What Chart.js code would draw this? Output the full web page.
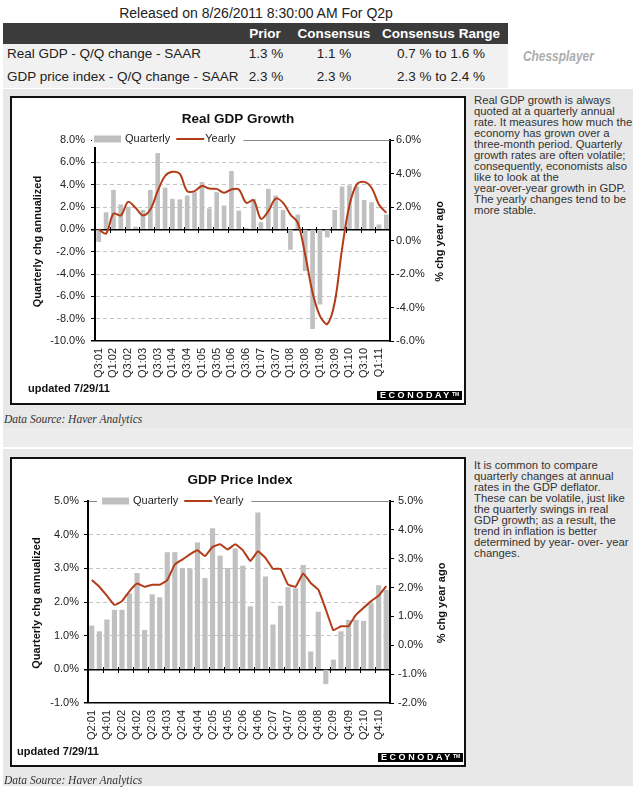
<!DOCTYPE html>
<html>
<head>
<meta charset="utf-8">
<script src="https://cdn.jsdelivr.net/npm/chart.js@4.4.0/dist/chart.umd.min.js"></script>
<style>
  body { margin: 0; width: 639px; height: 789px; position: relative; overflow: hidden; background: #fff;
         font-family: Arial, "Liberation Sans", sans-serif; }
  .abs { position: absolute; white-space: nowrap; }
  .panel { position: absolute; left: 3px; width: 630px; background: #e8e8e8; }
  .hcell { position: absolute; top: 23px; height: 21px; line-height: 21px; width: 120px; text-align: center;
           color: #fff; font-weight: bold; font-size: 13.5px; }
  .cell { position: absolute; width: 120px; text-align: center; font-size: 13.5px; color: #222; line-height: 20px; }
  .rowlbl { position: absolute; left: 7px; font-size: 13.5px; color: #222; line-height: 20px; white-space: nowrap; }
  .box { position: absolute; left: 10px; width: 452px; border: 2px solid #111; background: #fff; }
  .box canvas { display: block; }
  .note { position: absolute; left: 474px; font-size: 11.3px; line-height: 11px; color: #333; white-space: nowrap; }
  .source { position: absolute; left: 4px; font-family: "Liberation Serif", "Times New Roman", serif; font-style: italic;
            font-size: 11.5px; color: #333; white-space: nowrap; }
  .updated { position: absolute; font-weight: bold; font-size: 11px; color: #111; white-space: nowrap; }
  .logo { position: absolute; width: 85px; height: 9px; line-height: 9px; background: #000; color: #fff;
          font-weight: bold; font-size: 9px; letter-spacing: 2.6px; text-align: center; overflow: hidden; }
  .logo sup { font-size: 5px; letter-spacing: 0; vertical-align: top; line-height: 6px; }
</style>
</head>
<body>

<!-- header table -->
<div class="abs" style="left:0; top:5px; width:512px; text-align:center; font-size:14px; color:#222; line-height:16px;">Released on 8/26/2011 8:30:00 AM For Q2p</div>
<div class="abs" style="left:3px; top:23px; width:505px; height:21px; background:#3b3b3b;"></div>
<div class="abs" style="left:3px; top:44px; width:505px; height:44px; background:#f1f1f1;"></div>
<div class="hcell" style="left:205px;">Prior</div>
<div class="hcell" style="left:274px;">Consensus</div>
<div class="hcell" style="left:381px;">Consensus Range</div>
<div class="rowlbl" style="top:44px;">Real GDP - Q/Q change - SAAR</div>
<div class="cell" style="left:206px; top:44px;">1.3 %</div>
<div class="cell" style="left:274px; top:44px;">1.1 %</div>
<div class="cell" style="left:381px; top:44px;">0.7 % to 1.6 %</div>
<div class="rowlbl" style="top:67px;">GDP price index - Q/Q change - SAAR</div>
<div class="cell" style="left:206px; top:67px;">2.3 %</div>
<div class="cell" style="left:274px; top:67px;">2.3 %</div>
<div class="cell" style="left:381px; top:67px;">2.3 % to 2.4 %</div>
<div class="abs" style="left:523px; top:48px; font-size:14px; font-weight:bold; font-style:italic; color:#adadad; transform:scaleX(0.85); transform-origin:left;">Chessplayer</div>

<!-- panels -->
<div class="panel" style="top:89px; height:339px;"></div>
<div class="panel" style="top:428px; height:19px; background:#ececec;"></div>
<div class="panel" style="top:449px; height:337px;"></div>

<div class="box" style="top:96px; height:305px;"><canvas id="gdpChart" width="452" height="305"></canvas></div>
<div class="updated" style="left:28px; top:382px;">updated 7/29/11</div>
<div class="logo" style="left:377px; top:391px;">ECONODAY<sup>TM</sup></div>
<div class="note" style="top:94.5px;">Real GDP growth is always<br>quoted at a quarterly annual<br>rate. It measures how much the<br>economy has grown over a<br>three-month period. Quarterly<br>growth rates are often volatile;<br>consequently, economists also<br>like to look at the<br>year-over-year growth in GDP.<br>The yearly changes tend to be<br>more stable.</div>
<div class="source" style="top:413px;">Data Source: Haver Analytics</div>

<div class="box" style="top:457px; height:306px;"><canvas id="priceChart" width="452" height="306"></canvas></div>
<div class="updated" style="left:17px; top:745px;">updated 7/29/11</div>
<div class="logo" style="left:378px; top:753px;">ECONODAY<sup>TM</sup></div>
<div class="note" style="top:459.5px;">It is common to compare<br>quarterly changes at annual<br>rates in the GDP deflator.<br>These can be volatile, just like<br>the quarterly swings in real<br>GDP growth; as a result, the<br>trend in inflation is better<br>determined by year- over- year<br>changes.</div>
<div class="source" style="top:774px;">Data Source: Haver Analytics</div>

<script>
// Real GDP, Q3:01 - Q2:11
const gdpQuarters = ['Q3:01','Q4:01','Q1:02','Q2:02','Q3:02','Q4:02','Q1:03','Q2:03','Q3:03','Q4:03',
  'Q1:04','Q2:04','Q3:04','Q4:04','Q1:05','Q2:05','Q3:05','Q4:05','Q1:06','Q2:06',
  'Q3:06','Q4:06','Q1:07','Q2:07','Q3:07','Q4:07','Q1:08','Q2:08','Q3:08','Q4:08',
  'Q1:09','Q2:09','Q3:09','Q4:09','Q1:10','Q2:10','Q3:10','Q4:10','Q1:11','Q2:11'];
const gdpQuarterly = [-1.1, 1.5, 3.5, 2.2, 2.0, 0.2, 1.7, 3.5, 6.8, 3.7,
  2.7, 2.65, 3.0, 3.3, 4.2, 1.85, 3.3, 2.1, 5.2, 1.65,
  0.1, 2.7, 0.6, 3.6, 3.0, 1.7, -1.8, 1.3, -3.7, -8.9,
  -6.7, -0.7, 1.7, 3.8, 3.9, 3.8, 2.6, 2.4, 0.4, 1.3];
const gdpYearly = [0.66, 0.42, 1.6, 1.5, 2.3, 1.95, 1.5, 1.85, 2.95, 3.85,
  4.1, 3.98, 2.95, 2.95, 3.25, 3.1, 3.08, 2.85, 3.05, 3.05,
  2.25, 2.4, 1.3, 1.75, 2.5, 2.25, 1.55, 1.05, -0.85, -3.1,
  -4.5, -4.98, -3.7, -0.5, 2.1, 3.35, 3.5, 3.15, 2.15, 1.65];

// GDP price index, Q2:01 - Q1:11
const priceQuarters = ['Q2:01','Q3:01','Q4:01','Q1:02','Q2:02','Q3:02','Q4:02','Q1:03','Q2:03','Q3:03',
  'Q4:03','Q1:04','Q2:04','Q3:04','Q4:04','Q1:05','Q2:05','Q3:05','Q4:05','Q1:06',
  'Q2:06','Q3:06','Q4:06','Q1:07','Q2:07','Q3:07','Q4:07','Q1:08','Q2:08','Q3:08',
  'Q4:08','Q1:09','Q2:09','Q3:09','Q4:09','Q1:10','Q2:10','Q3:10','Q4:10','Q1:11'];
const priceQuarterly = [1.29, 1.12, 1.47, 1.76, 1.76, 2.25, 2.85, 1.16, 2.22, 2.13,
  3.47, 3.47, 3.0, 2.99, 3.76, 2.7, 4.18, 3.37, 3.0, 3.58,
  3.07, 1.86, 4.65, 2.75, 1.32, 1.88, 2.43, 2.4, 3.09, 0.52,
  1.7, -0.43, 0.28, 1.12, 1.46, 1.46, 1.43, 1.95, 2.49, 2.35];
const priceYearly = [2.26, 2.03, 1.72, 1.4, 1.53, 1.88, 2.14, 2.03, 2.1, 2.1,
  2.26, 2.8, 2.97, 3.15, 3.29, 3.09, 3.41, 3.5, 3.32, 3.5,
  3.3, 2.92, 3.26, 3.03, 2.65, 2.65, 2.1, 2.03, 2.49, 2.16,
  1.93, 1.24, 0.52, 0.66, 0.66, 1.06, 1.3, 1.53, 1.72, 2.05];

const BAR_GRAY = '#c0c0c0';
const LINE_RED = '#b23c17';
const FONT = 'Arial, "Liberation Sans", sans-serif';

Chart.defaults.font.family = FONT;
Chart.defaults.font.size = 11;
Chart.defaults.color = '#222';

// title, legend, axis titles and the small ticks on the zero line
const econodayDecor = {
  id: 'econodayDecor',
  afterDraw(chart, args, opts) {
    const { ctx, chartArea, scales: { x, y } } = chart;
    ctx.save();

    ctx.fillStyle = '#111';
    ctx.font = 'bold 13.5px ' + FONT;
    ctx.textAlign = 'center';
    ctx.textBaseline = 'middle';
    ctx.fillText(opts.title, opts.titleX, 21);

    // legend sits on the top frame line
    const ly = opts.legendY;
    let lx = opts.legendX;
    ctx.fillStyle = '#fff';
    ctx.fillRect(opts.whiteLeft, ly - 8, lx + 150 - opts.whiteLeft, 16);
    ctx.fillStyle = BAR_GRAY;
    ctx.fillRect(lx, ly - 3.5, 27, 7);
    ctx.font = '11px ' + FONT;
    ctx.textAlign = 'left';
    ctx.fillStyle = '#222';
    ctx.fillText('Quarterly', lx + 31, ly);
    const qw = ctx.measureText('Quarterly').width;
    const l1 = lx + 31 + qw + 6;
    ctx.strokeStyle = LINE_RED;
    ctx.lineWidth = 2;
    ctx.beginPath();
    ctx.moveTo(l1, ly);
    ctx.lineTo(l1 + 28, ly);
    ctx.stroke();
    ctx.fillText('Yearly', l1 + 29, ly);
    const yw = ctx.measureText('Yearly').width;
    const grayStart = l1 + 29 + yw + 8;
    ctx.fillStyle = '#fff';
    ctx.fillRect(lx + 150, ly - 8, grayStart - lx - 150, 16);
    ctx.strokeStyle = '#888';
    ctx.lineWidth = 1;
    ctx.beginPath();
    ctx.moveTo(grayStart, chartArea.top + 0.5);
    ctx.lineTo(chartArea.right, chartArea.top + 0.5);
    ctx.stroke();

    // axis titles
    ctx.fillStyle = '#111';
    ctx.font = 'bold 11px ' + FONT;
    ctx.textAlign = 'center';
    const midY = (chartArea.top + chartArea.bottom) / 2;
    [[opts.leftTitle, opts.leftTitleX], [opts.rightTitle, opts.rightTitleX]].forEach(([txt, tx]) => {
      ctx.save();
      ctx.translate(tx, midY + 1);
      ctx.rotate(-Math.PI / 2);
      ctx.fillText(txt, 0, 0);
      ctx.restore();
    });

    // tick marks on the zero line, every second quarter
    const y0 = Math.round(y.getPixelForValue(0));
    ctx.strokeStyle = '#000';
    ctx.lineWidth = 1;
    const n = chart.data.labels.length;
    for (let k = 2; k < n; k += 2) {
      const bx = Math.round((x.getPixelForValue(k - 1) + x.getPixelForValue(k)) / 2) + 0.5;
      ctx.beginPath();
      ctx.moveTo(bx, y0 - 2);
      ctx.lineTo(bx, y0 + 4);
      ctx.stroke();
    }
    ctx.restore();
  },
};

function pct(v) { return v.toFixed(1) + '%'; }

function buildChart(id, labels, quarterly, yearly, set) {
  return new Chart(document.getElementById(id), {
    type: 'bar',
    data: {
      labels: labels,
      datasets: [
        {
          type: 'line', label: 'Yearly', data: yearly, yAxisID: 'y2', order: 0,
          borderColor: LINE_RED, borderWidth: 2, pointRadius: 0, tension: set.tension,
        },
        {
          type: 'bar', label: 'Quarterly', data: quarterly, yAxisID: 'y', order: 1,
          backgroundColor: BAR_GRAY, barThickness: set.barWidth,
        },
      ],
    },
    options: {
      responsive: false,
      animation: false,
      layout: { padding: { top: 42, left: 0, right: 0, bottom: 0 } },
      scales: {
        x: {
          grid: { display: false, drawTicks: false },
          border: { display: false },
          ticks: {
            autoSkip: false, minRotation: 90, maxRotation: 90, padding: 7,
            callback: function (value, index) { return index % 2 === 0 ? this.getLabelForValue(value) : ''; },
          },
          afterFit: (s) => { s.height = set.xHeight; },
        },
        y: {
          position: 'left', min: set.yMin, max: set.yMax,
          ticks: { stepSize: set.yStep, padding: set.leftPad, callback: pct },
          grid: {
            tickColor: '#000', tickLength: 4,
            color: (c) => {
              const v = c.tick ? c.tick.value : null;
              if (v === 0 || v === set.yMin) return '#000';
              if (v === set.yMax) return '#888';
              return '#c4c4c4';
            },
            lineWidth: (c) => (c.tick && (c.tick.value === 0 || c.tick.value === set.yMin) ? 1.5 : 1),
          },
          border: {
            display: true, color: '#000', width: 2,
            dash: (c) => {
              const v = c.tick ? c.tick.value : 0;
              return (v === 0 || v === set.yMin || v === set.yMax) ? [] : [4, 3];
            },
          },
          afterFit: (s) => { s.width = set.leftWidth; },
        },
        y2: {
          position: 'right', min: set.y2Min, max: set.y2Max,
          ticks: { stepSize: set.y2Step, padding: set.rightPad, callback: pct },
          grid: { drawOnChartArea: false, tickColor: '#000', tickLength: 4 },
          border: { display: true, color: '#000', width: 2 },
          afterFit: (s) => { s.width = set.rightWidth; },
        },
      },
      plugins: {
        legend: { display: false },
        tooltip: { enabled: false },
        econodayDecor: set.decor,
      },
    },
    plugins: [econodayDecor],
  });
}

buildChart('gdpChart', gdpQuarters, gdpQuarterly, gdpYearly, {
  tension: 0.35, barWidth: 4, xHeight: 62,
  yMin: -10, yMax: 8, yStep: 2, leftPad: 6, leftWidth: 83,
  y2Min: -6, y2Max: 6, y2Step: 2, rightPad: 2, rightWidth: 74,
  decor: {
    title: 'Real GDP Growth', titleX: 226,
    legendX: 82, legendY: 41, whiteLeft: 80,
    leftTitle: 'Quarterly chg annualized', leftTitleX: 26,
    rightTitle: '% chg year ago', rightTitleX: 428,
  },
});

buildChart('priceChart', priceQuarters, priceQuarterly, priceYearly, {
  tension: 0.1, barWidth: 4.5, xHeight: 62,
  yMin: -1, yMax: 5, yStep: 1, leftPad: 5, leftWidth: 76,
  y2Min: -2, y2Max: 5, y2Step: 1, rightPad: 4, rightWidth: 74,
  decor: {
    title: 'GDP Price Index', titleX: 228,
    legendX: 90, legendY: 42, whiteLeft: 85,
    leftTitle: 'Quarterly chg annualized', leftTitleX: 25,
    rightTitle: '% chg year ago', rightTitleX: 430,
  },
});
</script>
</body>
</html>
